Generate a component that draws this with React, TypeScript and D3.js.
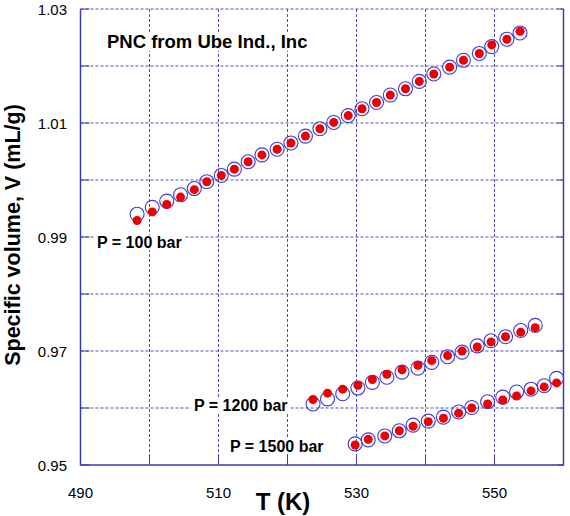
import * as d3 from "d3";
import { useEffect, useRef } from "react";

// temperatures (K) and specific volumes (mL/g); "exp" = open circles, "calc" = red dots
const T_100 = [
  498.2, 500.4, 502.5, 504.5, 506.5, 508.3, 510.4, 512.3, 514.3, 516.3, 518.5, 520.5, 522.6, 524.7,
  526.7, 528.8, 530.8, 532.9, 534.9, 537.1, 539.1, 541.2, 543.5, 545.5, 547.8, 549.6, 551.8, 553.7,
];
const V_100_EXP = [
  0.994, 0.9952, 0.9963, 0.9974, 0.9985, 0.9997, 1.0008, 1.0019, 1.0032, 1.0044, 1.0054, 1.0065, 1.0077,
  1.009, 1.0101, 1.0113, 1.0125, 1.0136, 1.0149, 1.016, 1.0173, 1.0186, 1.0198, 1.021, 1.0222, 1.0234,
  1.0247, 1.0258,
];
const V_100_CALC = [
  0.9929, 0.9944, 0.9957, 0.997, 0.9983, 0.9997, 1.0008, 1.0019, 1.0032, 1.0044, 1.0054, 1.0065, 1.0077,
  1.009, 1.0101, 1.0113, 1.0125, 1.0136, 1.0149, 1.016, 1.0173, 1.0186, 1.0198, 1.021, 1.0222, 1.0237,
  1.0247, 1.0261,
];

const T_1200 = [
  523.7, 525.8, 528.0, 530.2, 532.3, 534.4, 536.6, 538.9, 540.9, 543.2, 545.3, 547.5, 549.5, 551.6, 553.8,
  555.9,
];
const V_1200_EXP = [
  0.9607, 0.9616, 0.9625, 0.9635, 0.9645, 0.9654, 0.9663, 0.967, 0.968, 0.969, 0.9698, 0.9709, 0.9718,
  0.9725, 0.9736, 0.9745,
];
const V_1200_CALC = [
  0.9615, 0.9626, 0.9633, 0.964, 0.965, 0.9659, 0.9667, 0.9675, 0.9683, 0.9692, 0.97, 0.9707, 0.9716,
  0.9725, 0.9733, 0.9741,
];

const T_1500 = [
  529.8, 531.7, 534.1, 536.2, 538.2, 540.4, 542.6, 544.8, 546.7, 549.0, 551.2, 553.2, 555.3, 557.2, 559.0,
];
const V_1500_EXP = [
  0.9537, 0.9544, 0.9551, 0.956, 0.957, 0.9577, 0.9584, 0.9593, 0.9601, 0.9611, 0.9619, 0.9628, 0.9633,
  0.9639, 0.9652,
];
const V_1500_CALC = [
  0.9535, 0.9545, 0.9551, 0.956, 0.9568, 0.9576, 0.9582, 0.9591, 0.96, 0.9607, 0.9614, 0.9621, 0.963,
  0.9637, 0.9644,
];

const X_TICKS = [490, 500, 510, 520, 530, 540, 550, 560];
const X_TICK_LABELS = [490, 510, 530, 550];
const Y_TICKS = [0.95, 0.96, 0.97, 0.98, 0.99, 1.0, 1.01, 1.02, 1.03];
const Y_TICK_LABELS = [0.95, 0.97, 0.99, 1.01, 1.03];

const SERIES = [
  { label: "P = 100 bar", t: T_100, exp: V_100_EXP, calc: V_100_CALC },
  { label: "P = 1200 bar", t: T_1200, exp: V_1200_EXP, calc: V_1200_CALC },
  { label: "P = 1500 bar", t: T_1500, exp: V_1500_EXP, calc: V_1500_CALC },
];

const FONT = "'Liberation Sans', Arial, Helvetica, sans-serif";
const FRAME = "#3a3ab8";
const GRID = "#4d4dc4";

const drawChart = (svgElement: SVGSVGElement) => {
  const svg = d3.select(svgElement);
  svg.selectAll("*").remove();

  const left = 80.5;
  const right = 563.5;
  const top = 9;
  const bottom = 465;

  const x = d3.scaleLinear().domain([490, 560]).range([left, right]);
  const y = d3.scaleLinear().domain([0.95, 1.03]).range([bottom, top]);

  svg.append("rect").attr("width", 570).attr("height", 516).attr("fill", "white");

  // dashed grid
  const grid = svg.append("g").attr("stroke", GRID).attr("stroke-width", 1).attr("stroke-dasharray", "3,2");
  grid
    .selectAll("line.v")
    .data(X_TICKS.filter((t) => t > 490 && t < 560))
    .join("line")
    .attr("x1", (t) => x(t))
    .attr("x2", (t) => x(t))
    .attr("y1", top)
    .attr("y2", bottom);
  grid
    .selectAll("line.h")
    .data(Y_TICKS.filter((v) => v > 0.95))
    .join("line")
    .attr("x1", left)
    .attr("x2", right)
    .attr("y1", (v) => y(v))
    .attr("y2", (v) => y(v));

  // inward ticks
  const ticks = svg.append("g").attr("stroke", FRAME).attr("stroke-width", 1);
  ticks
    .selectAll("line.bt")
    .data(X_TICKS)
    .join("line")
    .attr("x1", (t) => x(t))
    .attr("x2", (t) => x(t))
    .attr("y1", bottom)
    .attr("y2", bottom - 10);
  ticks
    .selectAll("line.lt")
    .data(Y_TICKS)
    .join("line")
    .attr("x1", left)
    .attr("x2", left + 9)
    .attr("y1", (v) => y(v))
    .attr("y2", (v) => y(v));
  ticks
    .selectAll("line.rt")
    .data(Y_TICKS)
    .join("line")
    .attr("x1", right)
    .attr("x2", right - 6)
    .attr("y1", (v) => y(v))
    .attr("y2", (v) => y(v));

  // frame: left, bottom, right solid
  svg
    .append("path")
    .attr("d", `M${left},${top}V${bottom}H${right}V${top}`)
    .attr("fill", "none")
    .attr("stroke", FRAME)
    .attr("stroke-width", 1.5);

  // tick labels
  svg
    .append("g")
    .selectAll("text")
    .data(X_TICK_LABELS)
    .join("text")
    .attr("x", (t) => x(t))
    .attr("y", 498)
    .attr("text-anchor", "middle")
    .style("font-family", FONT)
    .style("font-size", "15px")
    .text((t) => String(t));
  svg
    .append("g")
    .selectAll("text")
    .data(Y_TICK_LABELS)
    .join("text")
    .attr("x", 67)
    .attr("y", (v) => y(v) + 5.5)
    .attr("text-anchor", "end")
    .style("font-family", FONT)
    .style("font-size", "15px")
    .text((v) => v.toFixed(2));

  // axis titles
  svg
    .append("text")
    .attr("x", 283)
    .attr("y", 510)
    .attr("text-anchor", "middle")
    .style("font-family", FONT)
    .style("font-weight", "bold")
    .style("font-size", "24px")
    .text("T (K)");
  svg
    .append("text")
    .attr("transform", "translate(19.5,235) rotate(-90)")
    .attr("text-anchor", "middle")
    .style("font-family", FONT)
    .style("font-weight", "bold")
    .style("font-size", "21.5px")
    .text("Specific volume, V (mL/g)");

  // annotations with white boxes
  const notes = [
    { text: "PNC from Ube Ind., Inc", px: 107, py: 48, size: 18.5 },
    { text: SERIES[0].label, px: 97, py: 248, size: 16 },
    { text: SERIES[1].label, px: 194, py: 410.5, size: 16 },
    { text: SERIES[2].label, px: 230, py: 451.5, size: 16 },
  ];
  notes.forEach((n) => {
    const g = svg.append("g");
    const rect = g.append("rect").attr("fill", "white");
    const txt = g
      .append("text")
      .attr("x", n.px)
      .attr("y", n.py)
      .style("font-family", FONT)
      .style("font-weight", "bold")
      .style("font-size", `${n.size}px`)
      .text(n.text);
    const bb = (txt.node() as SVGTextElement).getBBox();
    rect
      .attr("x", bb.x - 3)
      .attr("y", bb.y + 1)
      .attr("width", bb.width + 6)
      .attr("height", bb.height - 2);
  });

  // points
  SERIES.forEach((s) => {
    const idx = d3.range(s.t.length);
    svg
      .append("g")
      .selectAll("circle")
      .data(idx)
      .join("circle")
      .attr("cx", (i) => x(s.t[i]))
      .attr("cy", (i) => y(s.exp[i]))
      .attr("r", 7)
      .attr("fill", "none")
      .attr("stroke", "#3c3cd6")
      .attr("stroke-width", 1.1);
    svg
      .append("g")
      .selectAll("circle")
      .data(idx)
      .join("circle")
      .attr("cx", (i) => x(s.t[i]))
      .attr("cy", (i) => y(s.calc[i]))
      .attr("r", 4.5)
      .attr("fill", "#ee0000");
  });
};

const App = () => {
  const svgRef = useRef<SVGSVGElement | null>(null);

  useEffect(() => {
    if (svgRef.current) drawChart(svgRef.current);
  }, []);

  return (
    <svg
      ref={svgRef}
      width={570}
      height={516}
      style={{ position: "absolute", left: 0, top: 0, display: "block" }}
    />
  );
};

export default App;
